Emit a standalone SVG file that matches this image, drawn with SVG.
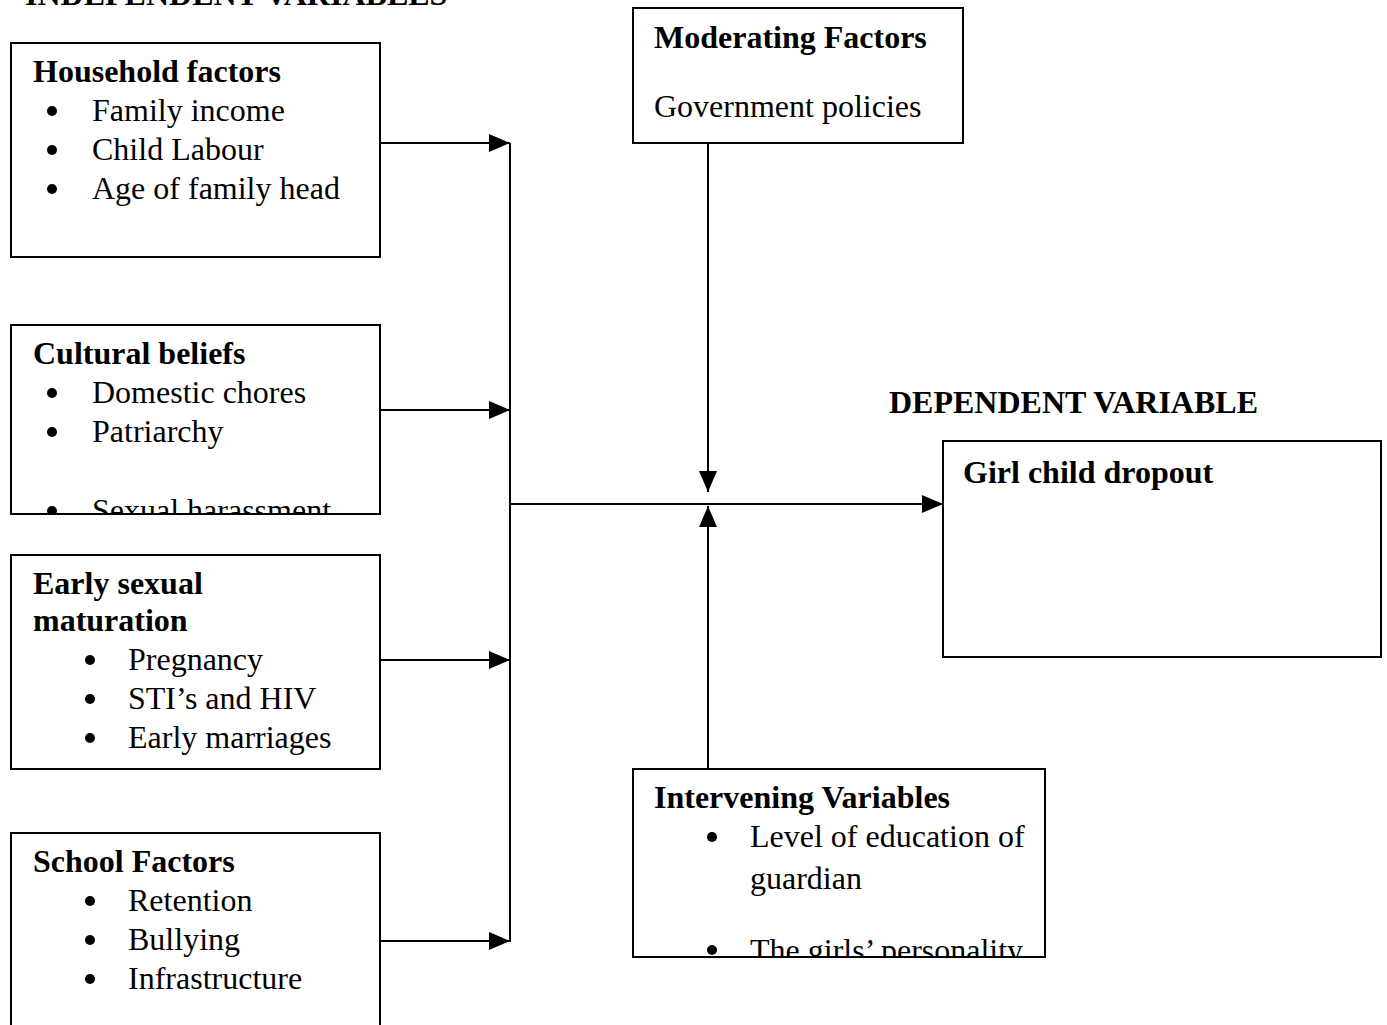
<svg xmlns="http://www.w3.org/2000/svg" width="1387" height="1025" viewBox="0 0 1387 1025">
<style>
text{font-family:"Liberation Serif","Times New Roman",serif;font-size:32px;fill:#000}
.b{font-weight:bold}
.box{fill:#fff;stroke:#000;stroke-width:2}
.ln{stroke:#000;stroke-width:2;fill:none}
</style>
<defs>
<marker id="ah" viewBox="0 0 21 18" refX="21" refY="9" markerWidth="21" markerHeight="18" markerUnits="userSpaceOnUse" orient="auto">
<path d="M0,0 L21,9 L0,18 Z" fill="#000"/>
</marker>
<clipPath id="c1"><rect x="12" y="326" width="367" height="187"/></clipPath>
<clipPath id="c2"><rect x="634" y="770" width="410" height="186"/></clipPath>
</defs>
<text class="b" x="25" y="5">INDEPENDENT VARIABLES</text>
<text class="b" x="889" y="413">DEPENDENT VARIABLE</text>
<g id="connectors">
<line class="ln" x1="380" y1="143" x2="510" y2="143" marker-end="url(#ah)"/>
<line class="ln" x1="380" y1="410" x2="510" y2="410" marker-end="url(#ah)"/>
<line class="ln" x1="380" y1="660" x2="510" y2="660" marker-end="url(#ah)"/>
<line class="ln" x1="380" y1="941" x2="510" y2="941" marker-end="url(#ah)"/>
<line class="ln" x1="510" y1="143" x2="510" y2="942"/>
<line class="ln" x1="510" y1="504" x2="943" y2="504" marker-end="url(#ah)"/>
<line class="ln" x1="708" y1="143" x2="708" y2="492" marker-end="url(#ah)"/>
<line class="ln" x1="708" y1="769" x2="708" y2="506" marker-end="url(#ah)"/>
</g>
<g id="household">
<rect class="box" x="11" y="43" width="369" height="214"/>
<text class="b" x="33" y="82">Household factors</text>
<circle cx="52" cy="111" r="5"/><text x="92" y="121">Family income</text>
<circle cx="52" cy="150" r="5"/><text x="92" y="160">Child Labour</text>
<circle cx="52" cy="189" r="5"/><text x="92" y="199">Age of family head</text>
</g>
<g id="cultural">
<rect class="box" x="11" y="325" width="369" height="189"/>
<text class="b" x="33" y="364">Cultural beliefs</text>
<circle cx="52" cy="393" r="5"/><text x="92" y="403">Domestic chores</text>
<circle cx="52" cy="432" r="5"/><text x="92" y="442">Patriarchy</text>
<g clip-path="url(#c1)"><circle cx="52" cy="511" r="5"/><text x="92" y="521">Sexual harassment</text></g>
</g>
<g id="early">
<rect class="box" x="11" y="555" width="369" height="214"/>
<text class="b" x="33" y="594">Early sexual</text>
<text class="b" x="33" y="631">maturation</text>
<circle cx="90" cy="660" r="5"/><text x="128" y="670">Pregnancy</text>
<circle cx="90" cy="699" r="5"/><text x="128" y="709">STI’s and HIV</text>
<circle cx="90" cy="738" r="5"/><text x="128" y="748">Early marriages</text>
</g>
<g id="school">
<rect class="box" x="11" y="833" width="369" height="200"/>
<text class="b" x="33" y="872">School Factors</text>
<circle cx="90" cy="901" r="5"/><text x="128" y="911">Retention</text>
<circle cx="90" cy="940" r="5"/><text x="128" y="950">Bullying</text>
<circle cx="90" cy="979" r="5"/><text x="128" y="989">Infrastructure</text>
</g>
<g id="moderating">
<rect class="box" x="633" y="8" width="330" height="135"/>
<text class="b" x="654" y="48">Moderating Factors</text>
<text x="654" y="117">Government policies</text>
</g>
<g id="dependent">
<rect class="box" x="943" y="441" width="438" height="216"/>
<text class="b" x="963" y="483">Girl child dropout</text>
</g>
<g id="intervening">
<rect class="box" x="633" y="769" width="412" height="188"/>
<text class="b" x="654" y="808">Intervening Variables</text>
<circle cx="712" cy="837" r="5"/><text x="750" y="847">Level of education of</text>
<text x="750" y="889">guardian</text>
<g clip-path="url(#c2)"><circle cx="712" cy="950" r="5"/><text x="750" y="961">The girls’ personality</text></g>
</g>
</svg>
